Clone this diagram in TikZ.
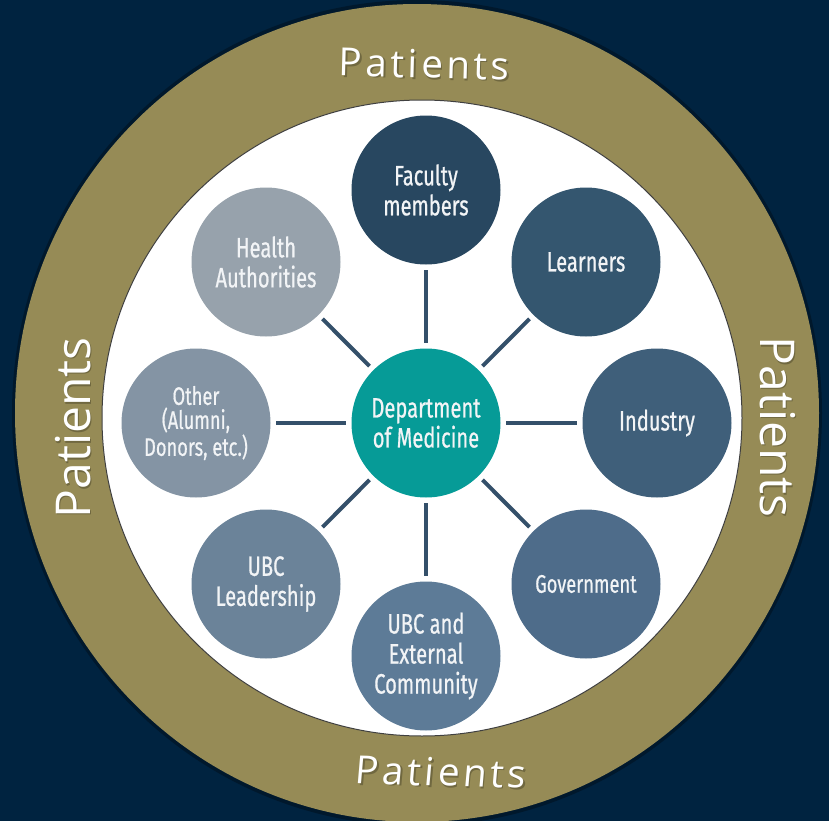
\documentclass[tikz,border=0pt]{standalone}
\usepackage{fontspec}
\setmainfont{Open Sans}
\newfontfamily\ringfont{Open Sans}
\newfontfamily\labelfont[FakeStretch=0.72,FakeBold=0.6]{Fira Sans}
\definecolor{navy}{HTML}{002340}
\definecolor{olive}{HTML}{968B56}
\definecolor{spokecol}{HTML}{34506A}
\definecolor{cCenter}{HTML}{069B97}
\definecolor{cFac}{HTML}{284760}
\definecolor{cLearn}{HTML}{34566F}
\definecolor{cInd}{HTML}{3F5F7A}
\definecolor{cGov}{HTML}{4E6C8A}
\definecolor{cExt}{HTML}{5D7B97}
\definecolor{cLead}{HTML}{6B8399}
\definecolor{cOther}{HTML}{8494A4}
\definecolor{cHealth}{HTML}{97A2AC}
\definecolor{labeltext}{HTML}{F2F4F6}
\begin{document}
\begin{tikzpicture}[x=0.75pt,y=-0.75pt,
  hub/.style={circle,inner sep=0pt,minimum size=111.75pt,fill=#1,
    text=labeltext,align=center,
    font=\labelfont\fontsize{21pt}{22.5pt}\selectfont},
  smalltext/.style={font=\labelfont\fontsize{19pt}{18pt}\selectfont},
  spoke/.style={draw=spokecol,line width=3pt,shorten <=4pt,shorten >=4pt},
  ringlabel/.style={text=white,anchor=base,inner sep=0pt},
  ringshadow/.style={text=black,opacity=0.25,anchor=base,inner sep=0pt},
  topfont/.style={font=\ringfont\addfontfeature{LetterSpace=9}\fontsize{29pt}{30pt}\selectfont},
  sidefont/.style={font=\ringfont\fontsize{36pt}{38pt}\selectfont},
]
% canvas
\useasboundingbox (0,0) rectangle (829,821);
\fill[navy] (0,0) rectangle (829,821);

% outer "Patients" band with a soft dark edge
\fill[black,opacity=0.3] (417,413) ellipse [x radius=405, y radius=413];
\fill[olive] (417,413) ellipse [x radius=402, y radius=409];

% inner white field
\fill[white,draw=black!75,line width=0.75pt] (422,418) ellipse [x radius=320, y radius=318];

% ring labels
\node[ringshadow,topfont,rotate=-1.5] at (425.5,79.5) {Patients};
\node[ringlabel,topfont,rotate=-1.5] (ptop) at (424,78) {Patients};
\node[ringshadow,topfont,rotate=-1.5,xslant=0.06] at (441.5,787.5) {Patients};
\node[ringlabel,topfont,rotate=-1.5,xslant=0.06] (pbottom) at (440,786) {Patients};
\node[ringshadow,sidefont,rotate=90] at (91.5,429.5) {Patients};
\node[ringlabel,sidefont,rotate=90] (pleft) at (90,428) {Patients};
\node[ringshadow,sidefont,rotate=-90] at (761.5,428.5) {Patients};
\node[ringlabel,sidefont,rotate=-90] (pright) at (760,427) {Patients};

% hub and stakeholder circles
\node[hub=cCenter] (dept) at (426,423) {Department\\of Medicine};
\node[hub=cFac] (fac) at (426,190) {Faculty\\members};
\node[hub=cLearn] (learn) at (586,262) {Learners};
\node[hub=cInd] (ind) at (657,423) {Industry};
\node[hub=cGov,smalltext] (gov) at (586,584) {Government};
\node[hub=cExt] (ext) at (426,656) {UBC and\\External\\Community};
\node[hub=cLead] (lead) at (266,584) {UBC\\Leadership};
\node[hub=cOther,smalltext] (other) at (196,423) {Other\\(Alumni,\\Donors, etc.)};
\node[hub=cHealth] (health) at (266,262) {Health\\Authorities};

% spokes
\foreach \n in {fac,learn,ind,gov,ext,lead,other,health}
  \draw[spoke] (dept) -- (\n);
\end{tikzpicture}
\end{document}
